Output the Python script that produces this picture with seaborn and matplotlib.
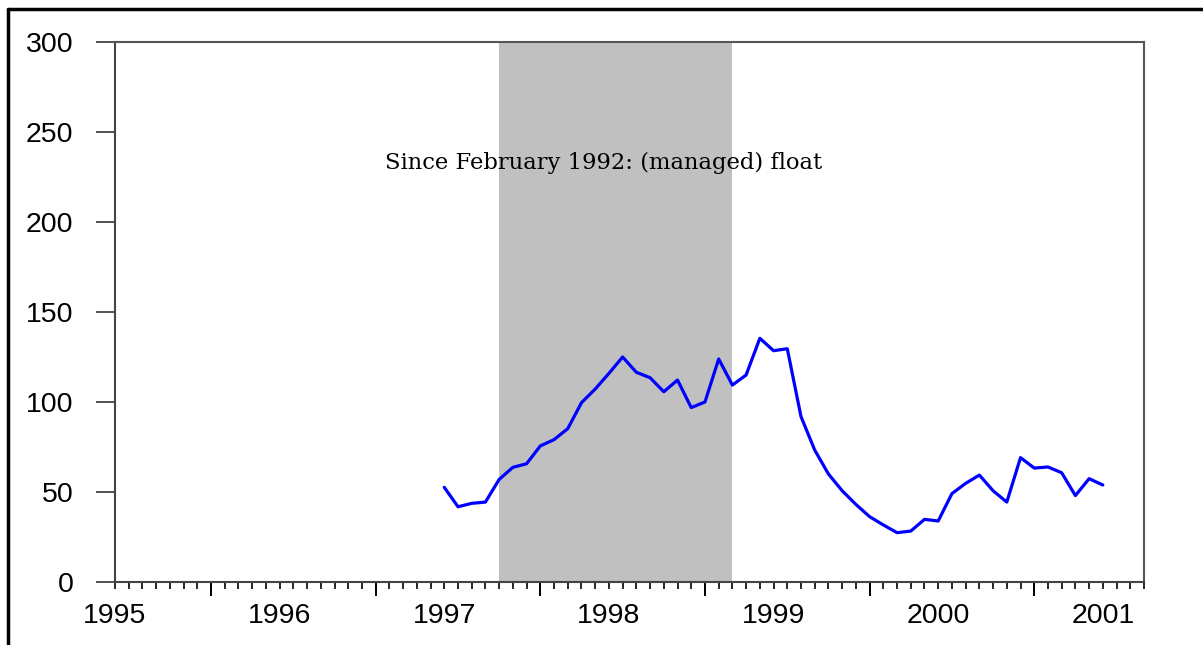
import numpy as np
import pandas as pd
import seaborn as sns
import matplotlib.pyplot as plt
from matplotlib.lines import Line2D
from matplotlib.ticker import FixedLocator, MultipleLocator

# monthly series, month index 0 = start of the axis
start_month = 24
values = [52.6, 41.8, 43.7, 44.4, 57.0, 63.7, 65.7, 75.6, 79.1, 85.2,
          99.6, 107.2, 115.9, 125.0, 116.5, 113.5, 105.7, 112.2, 96.9, 100.0,
          123.9, 109.4, 115.0, 135.4, 128.5, 129.6, 91.9, 73.3, 60.0, 50.7,
          43.1, 36.3, 31.7, 27.4, 28.3, 34.8, 33.9, 49.1, 54.8, 59.4,
          50.7, 44.4, 69.1, 63.3, 63.9, 60.7, 48.0, 57.4, 53.9]
months = np.arange(start_month, start_month + len(values))

shade_start, shade_end = 28, 45
year_labels = ["1995", "1996", "1997", "1998", "1999", "2000", "2001"]
label_pos = [0, 12, 24, 36, 48, 60, 72]
year_ticks = [7, 19, 31, 43, 55, 67]
y_ticks = [0, 50, 100, 150, 200, 250, 300]
note = "Since February 1992: (managed) float"

df = pd.DataFrame({"month": months, "value": values})

sns.set_style("white")
plt.rcParams["font.family"] = ["Liberation Sans", "DejaVu Sans"]

fig = plt.figure(figsize=(12.03, 6.45), dpi=100)
ax = fig.add_axes([115 / 1203, 1 - 582 / 645, (1144 - 115) / 1203, (582 - 42) / 645])

ax.axvspan(shade_start, shade_end, color="#c0c0c0", lw=0, zorder=0)
sns.lineplot(data=df, x="month", y="value", color="#0000ff", lw=2.3, ax=ax, zorder=2)
ax.text(35.6, 233, note, ha="center", va="center",
        fontsize=16.3, family="DejaVu Serif", color="black")

ax.set_xlim(0, 75)
ax.set_ylim(0, 300)
ax.set_xlabel("")
ax.set_ylabel("")

ax.xaxis.set_major_locator(FixedLocator(label_pos))
ax.set_xticklabels(year_labels)
ax.xaxis.set_minor_locator(MultipleLocator(1))
ax.tick_params(axis="x", which="both", direction="out", length=5, width=1.2,
               color="black", labelcolor="black", labelsize=20.5, pad=10, bottom=True)
ax.set_yticks(y_ticks)
ax.tick_params(axis="y", direction="out", length=14, width=1.2,
               color="#333333", labelcolor="black", labelsize=20.5, pad=16, left=True)

# longer ticks at the turn of each year
sec = ax.secondary_xaxis("bottom")
sec.xaxis.set_major_locator(FixedLocator(year_ticks))
sec.tick_params(axis="x", direction="out", length=10, width=1.4,
                color="black", labelbottom=False)
sec.spines["bottom"].set_visible(False)

for side in ["left", "bottom", "top", "right"]:
    ax.spines[side].set_visible(True)
    ax.spines[side].set_linewidth(1.5)
    ax.spines[side].set_color("#555555")
ax.spines["left"].set_color("#444444")
ax.spines["bottom"].set_color("#444444")

# outer frame
fig.add_artist(Line2D([8 / 1203, 1.01], [1 - 9 / 645] * 2, color="black", lw=2.5))
fig.add_artist(Line2D([8 / 1203] * 2, [1 - 9 / 645, -0.01], color="black", lw=2.5))

fig.savefig("out.png", dpi=100)
